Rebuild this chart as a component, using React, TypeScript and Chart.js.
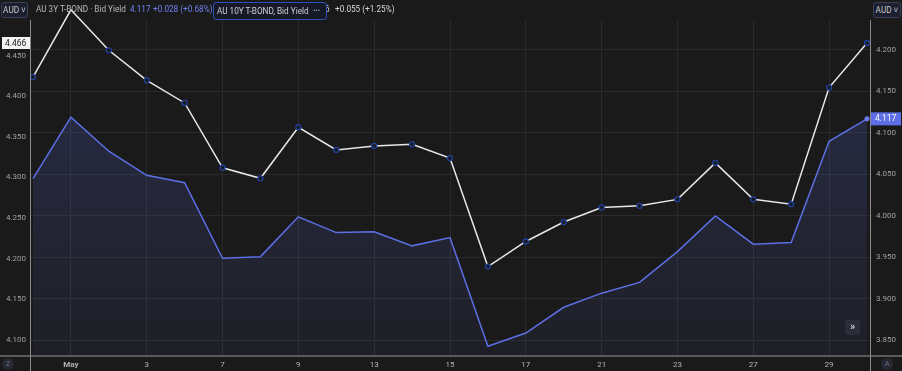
import React, { useEffect, useRef } from "react";
import { Chart, registerables } from "chart.js";

Chart.register(...registerables);

// Trading days (Apr 30 .. May 30)
const dayLabels = ["30", "May", "2", "3", "6", "7", "8", "9", "10", "13", "14", "15", "16", "17", "20", "21", "22", "23", "24", "27", "28", "29", "30"];
const shownTickIdx = [1, 3, 5, 7, 9, 11, 13, 15, 17, 19, 21];

// AU 10Y T-BOND, Bid Yield (left axis, white)
const au10y = [4.424, 4.507, 4.457, 4.420, 4.392, 4.312, 4.299, 4.362, 4.334, 4.339, 4.341, 4.324, 4.190, 4.221, 4.245, 4.263, 4.265, 4.273, 4.318, 4.273, 4.267, 4.411, 4.466];
// AU 3Y T-BOND, Bid Yield (right axis, blue)
const au3y = [4.045, 4.119, 4.078, 4.049, 4.040, 3.949, 3.951, 3.999, 3.980, 3.981, 3.964, 3.974, 3.843, 3.859, 3.890, 3.907, 3.920, 3.957, 4.000, 3.966, 3.968, 4.090, 4.117];

const leftTicks = [4.1, 4.15, 4.2, 4.25, 4.3, 4.35, 4.4, 4.45];
const rightTicks = [3.85, 3.9, 3.95, 4.0, 4.05, 4.1, 4.15, 4.2];

const FONT = "Roboto, 'Liberation Sans', sans-serif";
const BG = "#1a1a1a";

export default function App() {
  const ref = useRef<HTMLCanvasElement | null>(null);

  useEffect(() => {
    if (!ref.current) return;
    const ctx2d = ref.current.getContext("2d")!;

    const decor = {
      id: "decor",
      beforeDraw(chart: any) {
        const { ctx, width, height } = chart;
        ctx.save();
        ctx.fillStyle = BG;
        ctx.fillRect(0, 0, width, height);
        ctx.restore();
      },
      afterDraw(chart: any) {
        const { ctx, chartArea: a, width, height, scales } = chart;
        ctx.save();
        // bottom axis line
        ctx.strokeStyle = "#5a5a5a";
        ctx.lineWidth = 2;
        ctx.beginPath();
        ctx.moveTo(0, a.bottom + 1);
        ctx.lineTo(width, a.bottom + 1);
        ctx.stroke();
        // vertical axis lines
        ctx.strokeStyle = "#8c8c8c";
        ctx.lineWidth = 1;
        [a.left, a.right].forEach((x: number) => {
          ctx.beginPath();
          ctx.moveTo(Math.round(x) + 0.5, a.top);
          ctx.lineTo(Math.round(x) + 0.5, height);
          ctx.stroke();
        });
        // price labels
        ctx.font = `8.5px ${FONT}`;
        ctx.textBaseline = "middle";
        const last10 = au10y[au10y.length - 1];
        const yl = scales.yL.getPixelForValue(last10);
        ctx.fillStyle = "#f3f3f3";
        ctx.fillRect(2, yl - 6, a.left - 2, 12);
        ctx.fillStyle = "#1a1a1a";
        ctx.textAlign = "left";
        ctx.fillText(last10.toFixed(3), 5, yl + 0.5);
        const last3 = au3y[au3y.length - 1];
        const yr = scales.yR.getPixelForValue(last3);
        ctx.fillStyle = "#5d6fe6";
        ctx.fillRect(a.right + 1, yr - 6.5, 30, 13);
        ctx.fillStyle = "#ffffff";
        ctx.fillText(last3.toFixed(3), a.right + 5, yr + 0.5);
        ctx.restore();
      },
    };

    const chart = new Chart(ctx2d, {
      type: "line",
      data: {
        datasets: [
          {
            label: "AU 10Y T-BOND, Bid Yield",
            data: au10y.map((v, i) => ({ x: i, y: v })),
            yAxisID: "yL",
            borderColor: "#e8e8e8",
            borderWidth: 1.5,
            pointRadius: 2.5,
            pointBorderWidth: 1.3,
            pointBorderColor: "#21409e",
            pointBackgroundColor: BG,
            tension: 0,
            fill: false,
            clip: false as any,
            order: 0,
          },
          {
            label: "AU 3Y T-BOND, Bid Yield",
            data: au3y.map((v, i) => ({ x: i, y: v })),
            yAxisID: "yR",
            borderColor: "#5d6fe6",
            borderWidth: 1.5,
            pointRadius: au3y.map((_, i) => (i === au3y.length - 1 ? 2.5 : 0)),
            pointBorderWidth: 0,
            pointBackgroundColor: "#6b7cf0",
            tension: 0,
            fill: "start",
            backgroundColor: (c: any) => {
              const a = c.chart.chartArea;
              if (!a) return "rgba(93,111,230,0.12)";
              const g = c.chart.ctx.createLinearGradient(0, a.top, 0, a.bottom);
              g.addColorStop(0, "rgba(93,111,230,0.24)");
              g.addColorStop(1, "rgba(93,111,230,0.06)");
              return g;
            },
            order: 1,
          },
        ],
      },
      options: {
        responsive: false,
        animation: false,
        layout: { padding: { top: 20, left: 0, right: 0, bottom: 0 } },
        plugins: { legend: { display: false }, tooltip: { enabled: false } },
        scales: {
          x: {
            type: "linear",
            min: -0.079,
            max: 22.079,
            afterBuildTicks: (s: any) => {
              s.ticks = shownTickIdx.map((v) => ({ value: v }));
            },
            afterFit: (s: any) => {
              s.height = 16;
            },
            grid: { color: "#2a2a2a", drawTicks: false },
            border: { display: false },
            ticks: {
              color: "#b4b4b4",
              padding: 5,
              maxRotation: 0,
              autoSkip: false,
              font: (c: any) => ({
                family: FONT,
                size: 8,
                weight: c.tick && c.tick.value === 1 ? "bold" : "normal",
              }),
              callback: (v: any) => dayLabels[Math.round(Number(v))] ?? "",
            },
          },
          yL: {
            type: "linear",
            position: "left",
            min: 4.0809,
            max: 4.4944,
            afterBuildTicks: (s: any) => {
              s.ticks = leftTicks.map((v) => ({ value: v }));
            },
            afterFit: (s: any) => {
              s.width = 30;
            },
            grid: { display: false, drawTicks: false },
            border: { display: false },
            ticks: {
              color: "#a0a0a0",
              padding: 4,
              font: { family: FONT, size: 8 },
              callback: (v: any) => Number(v).toFixed(3),
            },
          },
          yR: {
            type: "linear",
            position: "right",
            min: 3.8325,
            max: 4.2361,
            afterBuildTicks: (s: any) => {
              s.ticks = rightTicks.map((v) => ({ value: v }));
            },
            afterFit: (s: any) => {
              s.width = 32;
            },
            grid: { color: "#2a2a2a", drawTicks: false },
            border: { display: false },
            ticks: {
              color: "#a0a0a0",
              padding: 6,
              font: { family: FONT, size: 8 },
              callback: (v: any) => Number(v).toFixed(3),
            },
          },
        },
      },
      plugins: [decor],
    });

    return () => chart.destroy();
  }, []);

  const txt: React.CSSProperties = {
    position: "absolute",
    top: 3,
    fontFamily: FONT,
    fontSize: 8.2,
    lineHeight: "13px",
    whiteSpace: "nowrap",
  };

  return (
    <div style={{ position: "fixed", left: 0, top: 0, width: 902, height: 371, background: BG, overflow: "hidden" }}>
      <canvas ref={ref} width={902} height={371} style={{ position: "absolute", left: 0, top: 0 }} />
      {/* AUD selector left */}
      <div
        style={{
          position: "absolute", left: 1, top: 2, width: 25, height: 14, border: "1px solid #3a3f55",
          borderRadius: 3, background: "#1c2030", color: "#c8c8c8", fontFamily: FONT, fontSize: 8.2,
          lineHeight: "14px", textAlign: "center",
        }}
      >
        AUD ˅
      </div>
      {/* AUD selector right */}
      <div
        style={{
          position: "absolute", left: 873, top: 2, width: 26, height: 14, border: "1px solid #3a3f55",
          borderRadius: 3, background: "#1c2030", color: "#c8c8c8", fontFamily: FONT, fontSize: 8.2,
          lineHeight: "14px", textAlign: "center",
        }}
      >
        AUD ˅
      </div>
      <span style={{ ...txt, left: 36, color: "#b8b8b8" }}>AU 3Y T-BOND · Bid Yield</span>
      <span style={{ ...txt, left: 130, color: "#6f80f2" }}>4.117</span>
      <span style={{ ...txt, left: 153, color: "#6f80f2" }}>+0.028 (+0.68%)</span>
      <span style={{ ...txt, left: 309, color: "#d8d8d8" }}>4.466</span>
      <span style={{ ...txt, left: 335, color: "#d8d8d8" }}>+0.055 (+1.25%)</span>
      <div
        style={{
          position: "absolute", left: 213, top: 2, width: 112, height: 16, border: "1px solid #2e4fb5",
          borderRadius: 3, background: "#161a27", fontFamily: FONT, fontSize: 8.2, lineHeight: "16px",
          color: "#d0d0d0", whiteSpace: "nowrap",
        }}
      >
        <span style={{ marginLeft: 3 }}>AU 10Y T-BOND, Bid Yield</span>
        <span style={{ position: "absolute", left: 99, top: 0, color: "#9aa0b5", fontSize: 7 }}>•••</span>
      </div>
      {/* scroll button */}
      <div
        style={{
          position: "absolute", left: 845, top: 320, width: 15, height: 15, borderRadius: 3,
          background: "#2b2e3a", color: "#e0e0e0", fontFamily: FONT, fontSize: 11, lineHeight: "14px",
          textAlign: "center",
        }}
      >
        »
      </div>
      {/* bottom circles */}
      <div
        style={{
          position: "absolute", left: 2, top: 358, width: 12, height: 12, borderRadius: 6,
          background: "#262933", color: "#6c6f7a", fontFamily: FONT, fontSize: 7, lineHeight: "12px",
          textAlign: "center",
        }}
      >
        Z
      </div>
      <div
        style={{
          position: "absolute", left: 881, top: 358, width: 12, height: 12, borderRadius: 6,
          background: "#262933", color: "#6c6f7a", fontFamily: FONT, fontSize: 7, lineHeight: "12px",
          textAlign: "center",
        }}
      >
        A
      </div>
    </div>
  );
}
